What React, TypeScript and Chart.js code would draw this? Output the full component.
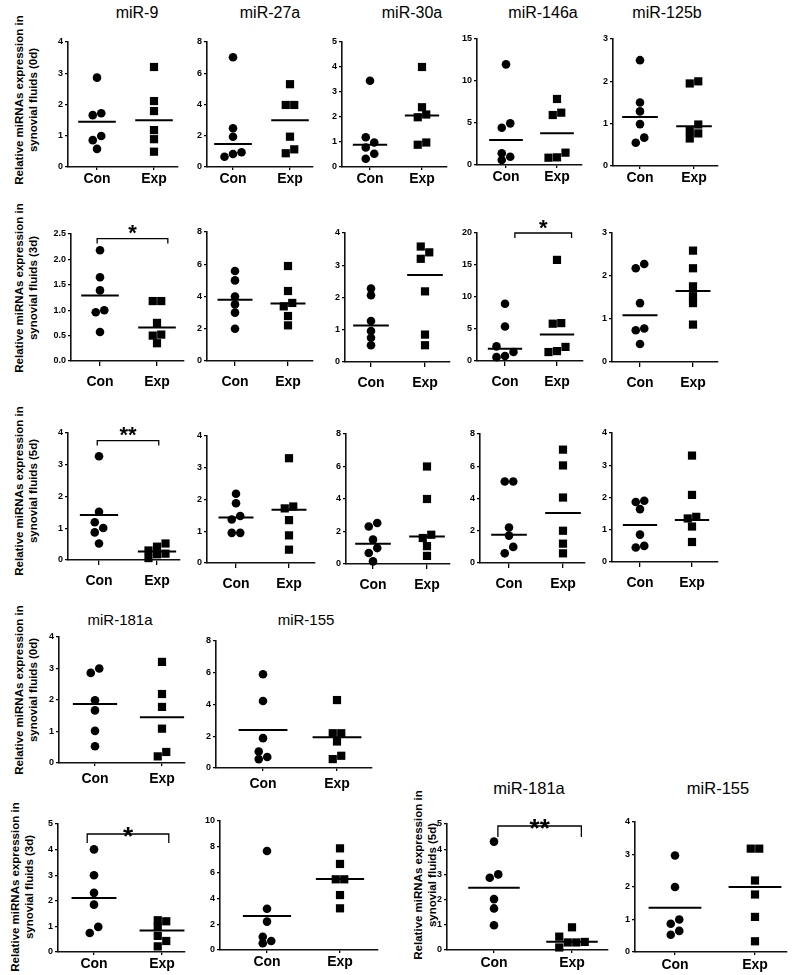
import React, { useEffect, useRef } from 'react';
import { Chart, registerables } from 'chart.js';

Chart.register(...registerables);

const FONT = "'Liberation Sans', Arial, Helvetica, sans-serif";
const GROUPS = ['Con', 'Exp'];
const Y_LINE1 = 'Relative miRNAs expression in';
const Y_LINE2 = (d: string) => `synovial fluids (${d})`;

// ---------- data: 0d (first block) ----------
const miR9_0d_con = [2.86, 1.66, 1.72, 0.99, 0.86, 0.58];
const miR9_0d_exp = [3.2, 2.11, 1.79, 1.18, 0.89, 0.49];
const miR9_0d_line = [1.45, 1.5];
const miR27a_0d_con = [7.02, 2.48, 1.94, 0.94, 0.66, 0.83];
const miR27a_0d_exp = [5.3, 3.97, 3.97, 1.94, 1.13, 0.88];
const miR27a_0d_line = [1.47, 3.0];
const miR30a_0d_con = [3.45, 1.19, 0.98, 0.78, 0.53, 0.33];
const miR30a_0d_exp = [4.0, 2.39, 2.1, 1.99, 0.98, 0.89];
const miR30a_0d_line = [0.89, 2.06];
const miR146a_0d_con = [11.98, 4.96, 4.44, 1.39, 0.6, 0.99];
const miR146a_0d_exp = [7.86, 6.23, 5.95, 1.47, 0.87, 0.91];
const miR146a_0d_line = [2.98, 3.77];
const miR125b_0d_con = [2.5, 1.5, 1.29, 0.99, 0.67, 0.55];
const miR125b_0d_exp = [1.95, 2.0, 0.98, 0.83, 0.77, 0.65];
const miR125b_0d_line = [1.16, 0.94];

// ---------- data: 3d ----------
const miR9_3d_con = [2.18, 1.65, 1.39, 1.0, 0.96, 0.57];
const miR9_3d_exp = [1.18, 1.18, 0.75, 0.52, 0.5, 0.35];
const miR9_3d_line = [1.29, 0.66];
const miR27a_3d_con = [5.58, 5.0, 4.0, 3.51, 3.0, 2.0];
const miR27a_3d_exp = [5.89, 4.34, 3.6, 3.39, 2.79, 2.21];
const miR27a_3d_line = [3.8, 3.56];
const miR30a_3d_con = [2.28, 2.07, 1.27, 0.96, 0.75, 0.52];
const miR30a_3d_exp = [3.58, 3.4, 3.2, 2.19, 0.85, 0.52];
const miR30a_3d_line = [1.13, 2.7];
const miR146a_3d_con = [8.95, 5.4, 2.28, 1.4, 0.77, 0.6];
const miR146a_3d_exp = [15.8, 5.92, 5.83, 2.2, 1.4, 1.55];
const miR146a_3d_line = [1.9, 4.16];
const miR125b_3d_con = [2.28, 2.18, 1.37, 0.78, 0.74, 0.42];
const miR125b_3d_exp = [2.59, 2.18, 1.76, 1.53, 1.37, 0.87];
const miR125b_3d_line = [1.09, 1.65];

// ---------- data: 5d ----------
const miR9_5d_con = [3.27, 1.52, 1.19, 1.01, 0.87, 0.52];
const miR9_5d_exp = [0.52, 0.42, 0.3, 0.2, 0.18, 0.06];
const miR9_5d_line = [1.42, 0.27];
const miR27a_5d_con = [2.18, 1.88, 1.48, 1.37, 0.95, 0.95];
const miR27a_5d_exp = [3.3, 1.78, 1.72, 1.35, 0.87, 0.42];
const miR27a_5d_line = [1.43, 1.68];
const miR30a_5d_con = [2.52, 2.31, 1.5, 0.98, 0.68, 0.16];
const miR30a_5d_exp = [6.0, 4.0, 1.8, 1.6, 1.1, 0.5];
const miR30a_5d_line = [1.25, 1.7];
const miR146a_5d_con = [5.05, 5.05, 2.2, 1.7, 1.0, 0.6];
const miR146a_5d_exp = [7.03, 6.05, 4.06, 2.0, 1.2, 0.6];
const miR146a_5d_line = [1.75, 3.1];
const miR125b_5d_con = [1.9, 1.86, 1.64, 0.85, 0.5, 0.45];
const miR125b_5d_exp = [3.3, 2.08, 1.4, 1.35, 1.1, 0.62];
const miR125b_5d_line = [1.15, 1.3];

// ---------- data: miR-181a / miR-155 ----------
const miR181a_0d_con = [2.86, 3.0, 1.99, 1.67, 1.02, 0.53];
const miR181a_0d_exp = [3.21, 2.19, 1.78, 1.09, 0.21, 0.35];
const miR181a_0d_line = [1.87, 1.45];
const miR155_0d_con = [5.91, 4.22, 1.88, 1.04, 0.56, 0.69];
const miR155_0d_exp = [4.28, 2.19, 2.19, 1.67, 0.56, 0.77];
const miR155_0d_line = [2.4, 1.94];
const miR181a_3d_con = [4.01, 3.0, 2.31, 1.85, 0.98, 0.74];
const miR181a_3d_exp = [1.24, 1.2, 0.98, 0.63, 0.43, 0.22];
const miR181a_3d_line = [2.11, 0.84];
const miR155_3d_con = [7.67, 3.2, 2.2, 1.03, 0.52, 0.7];
const miR155_3d_exp = [7.88, 6.67, 5.48, 5.48, 4.26, 3.23];
const miR155_3d_line = [2.64, 5.5];
const miR181a_5d_con = [4.3, 3.0, 2.87, 2.02, 1.65, 0.98];
const miR181a_5d_exp = [0.9, 0.53, 0.32, 0.3, 0.3, 0.1];
const miR181a_5d_line = [2.47, 0.33];
const miR155_5d_con = [2.97, 2.0, 1.0, 0.87, 0.65, 0.53];
const miR155_5d_exp = [3.18, 3.18, 2.2, 1.77, 1.08, 0.33];
const miR155_5d_line = [1.36, 2.0];

// ---------- layout ----------
const YW = 32;
const PT = 24;
const PR = 6;
const XH = 34;
const HALF = 0.33;

type Bracket = { from: number; to: number; y: number; tail: number; text: string; size: number; gap: number };
interface PanelSpec {
  con: number[]; exp: number[]; lines: number[];
  yMax: number; step: number; dec: number;
  left: number; right: number; top: number; bottom: number; conX: number; expX: number;
  xTick: number; xPad: number;
  bracket?: Bracket;
}

const r1 = { xTick: 3, xPad: 1 };
const r23 = { xTick: 5, xPad: 8 };
const r4 = { xTick: 3, xPad: 5 };
const r5 = { xTick: 3, xPad: 1 };

const PANELS: PanelSpec[] = [
  { con: miR9_0d_con, exp: miR9_0d_exp, lines: miR9_0d_line, yMax: 4, step: 1, dec: 0, left: 68, right: 178, top: 42, bottom: 167, conX: 97, expX: 154, ...r1 },
  { con: miR27a_0d_con, exp: miR27a_0d_exp, lines: miR27a_0d_line, yMax: 8, step: 2, dec: 0, left: 207, right: 313, top: 42, bottom: 167, conX: 233, expX: 290, ...r1 },
  { con: miR30a_0d_con, exp: miR30a_0d_exp, lines: miR30a_0d_line, yMax: 5, step: 1, dec: 0, left: 342, right: 447, top: 42, bottom: 167, conX: 370, expX: 422, ...r1 },
  { con: miR146a_0d_con, exp: miR146a_0d_exp, lines: miR146a_0d_line, yMax: 15, step: 5, dec: 0, left: 477, right: 582, top: 39, bottom: 165, conX: 506, expX: 557, ...r1 },
  { con: miR125b_0d_con, exp: miR125b_0d_exp, lines: miR125b_0d_line, yMax: 3, step: 1, dec: 0, left: 613, right: 718, top: 39, bottom: 166, conX: 640, expX: 694, ...r1 },

  { con: miR9_3d_con, exp: miR9_3d_exp, lines: miR9_3d_line, yMax: 2.5, step: 0.5, dec: 1, left: 71, right: 184, top: 234, bottom: 361, conX: 100, expX: 157, ...r23,
    bracket: { from: 0.95, to: 2.19, y: 2.41, tail: 5, text: '*', size: 22, gap: 11 } },
  { con: miR27a_3d_con, exp: miR27a_3d_exp, lines: miR27a_3d_line, yMax: 8, step: 2, dec: 0, left: 207, right: 313, top: 232, bottom: 361, conX: 235, expX: 288, ...r23 },
  { con: miR30a_3d_con, exp: miR30a_3d_exp, lines: miR30a_3d_line, yMax: 4, step: 1, dec: 0, left: 345, right: 450, top: 233, bottom: 362, conX: 371, expX: 425, ...r23 },
  { con: miR146a_3d_con, exp: miR146a_3d_exp, lines: miR146a_3d_line, yMax: 20, step: 5, dec: 0, left: 477, right: 583, top: 233, bottom: 361, conX: 505, expX: 557, ...r23,
    bracket: { from: 1.19, to: 2.28, y: 20, tail: 5, text: '*', size: 22, gap: 11 } },
  { con: miR125b_3d_con, exp: miR125b_3d_exp, lines: miR125b_3d_line, yMax: 3, step: 1, dec: 0, left: 612, right: 718, top: 233, bottom: 362, conX: 640, expX: 693, ...r23 },

  { con: miR9_5d_con, exp: miR9_5d_exp, lines: miR9_5d_line, yMax: 4, step: 1, dec: 0, left: 68, right: 180, top: 433, bottom: 560, conX: 99, expX: 157, ...r23,
    bracket: { from: 0.97, to: 2.03, y: 3.76, tail: 5, text: '**', size: 22, gap: 11.5 } },
  { con: miR27a_5d_con, exp: miR27a_5d_exp, lines: miR27a_5d_line, yMax: 4, step: 1, dec: 0, left: 207, right: 315, top: 436, bottom: 563, conX: 236, expX: 289, ...r23 },
  { con: miR30a_5d_con, exp: miR30a_5d_exp, lines: miR30a_5d_line, yMax: 8, step: 2, dec: 0, left: 346, right: 450, top: 434, bottom: 564, conX: 373, expX: 427, ...r23 },
  { con: miR146a_5d_con, exp: miR146a_5d_exp, lines: miR146a_5d_line, yMax: 8, step: 2, dec: 0, left: 480, right: 585, top: 434, bottom: 563, conX: 509, expX: 563, ...r23 },
  { con: miR125b_5d_con, exp: miR125b_5d_exp, lines: miR125b_5d_line, yMax: 4, step: 1, dec: 0, left: 612, right: 718, top: 433, bottom: 562, conX: 640, expX: 692, ...r23 },

  { con: miR181a_0d_con, exp: miR181a_0d_exp, lines: miR181a_0d_line, yMax: 4, step: 1, dec: 0, left: 59, right: 185, top: 637, bottom: 763, conX: 95, expX: 162, ...r4 },
  { con: miR155_0d_con, exp: miR155_0d_exp, lines: miR155_0d_line, yMax: 8, step: 2, dec: 0, left: 216, right: 372, top: 641, bottom: 768, conX: 263, expX: 337, ...r4 },

  { con: miR181a_3d_con, exp: miR181a_3d_exp, lines: miR181a_3d_line, yMax: 5, step: 1, dec: 0, left: 58, right: 185, top: 824, bottom: 952, conX: 94, expX: 162, ...r5,
    bracket: { from: 0.9, to: 2.1, y: 4.61, tail: 9, text: '*', size: 26, gap: 4 } },
  { con: miR155_3d_con, exp: miR155_3d_exp, lines: miR155_3d_line, yMax: 10, step: 2, dec: 0, left: 220, right: 378, top: 821, bottom: 950, conX: 267, expX: 340, ...r5 },

  { con: miR181a_5d_con, exp: miR181a_5d_exp, lines: miR181a_5d_line, yMax: 5, step: 1, dec: 0, left: 447, right: 608, top: 824, bottom: 950, conX: 494, expX: 572, xTick: 3, xPad: 2,
    bracket: { from: 1.05, to: 2.12, y: 4.92, tail: 11, text: '**', size: 26, gap: 4 } },
  { con: miR155_5d_con, exp: miR155_5d_exp, lines: miR155_5d_line, yMax: 4, step: 1, dec: 0, left: 635, right: 787, top: 822, bottom: 952, conX: 675, expX: 755, xTick: 3, xPad: 2 },
];

const TITLES: { text: string; x: number; y: number; size: number }[] = [
  { text: 'miR-9', x: 137, y: 13, size: 16 },
  { text: 'miR-27a', x: 270, y: 13, size: 16 },
  { text: 'miR-30a', x: 412, y: 13, size: 16 },
  { text: 'miR-146a', x: 543, y: 13, size: 16 },
  { text: 'miR-125b', x: 667, y: 13, size: 16 },
  { text: 'miR-181a', x: 120, y: 620, size: 15 },
  { text: 'miR-155', x: 306, y: 620, size: 15 },
  { text: 'miR-181a', x: 529, y: 788, size: 16.5 },
  { text: 'miR-155', x: 718, y: 788, size: 16.5 },
];

const YLABELS: { day: string; x: number; y: number }[] = [
  { day: '0d', x: 25.5, y: 100 },
  { day: '3d', x: 25.5, y: 288 },
  { day: '5d', x: 25.5, y: 491 },
  { day: '0d', x: 25.5, y: 690 },
  { day: '3d', x: 21.5, y: 887 },
  { day: '5d', x: 424.5, y: 875 },
];

// spread overlapping points horizontally (beeswarm-like columns)
function spread(values: number[], pxPerVal: number, pxPerUnitX: number): number[] {
  const D = 6.5;
  const S = 8.5;
  const idx = values.map((_, i) => i).sort((a, b) => values[a] - values[b]);
  const offs = new Array(values.length).fill(0);
  let start = 0;
  while (start < idx.length) {
    let end = start;
    while (end + 1 < idx.length && (values[idx[end + 1]] - values[idx[end]]) * pxPerVal < D) end++;
    const cluster = idx.slice(start, end + 1);
    const n = cluster.length;
    if (n > 1) {
      let k = 2;
      for (; k < n; k++) {
        let ok = true;
        for (let i = k; i < n; i++) {
          if ((values[cluster[i]] - values[cluster[i - k]]) * pxPerVal < D) { ok = false; break; }
        }
        if (ok) break;
      }
      cluster.forEach((id, i) => {
        const col = i % k;
        offs[id] = ((col - (k - 1) / 2) * S) / pxPerUnitX;
      });
    }
    start = end + 1;
  }
  return offs;
}

function Panel({ spec }: { spec: PanelSpec }) {
  const ref = useRef<HTMLCanvasElement>(null);
  const w = YW + (spec.right - spec.left) + PR;
  const h = PT + (spec.bottom - spec.top) + XH;

  useEffect(() => {
    if (!ref.current) return;
    const ppu = spec.expX - spec.conX;
    const xMin = 1 - (spec.conX - spec.left) / ppu;
    const xMax = 2 + (spec.right - spec.expX) / ppu;
    const pxPerVal = (spec.bottom - spec.top) / spec.yMax;
    const offC = spread(spec.con, pxPerVal, ppu);
    const offE = spread(spec.exp, pxPerVal, ppu);

    const bracketPlugin = {
      id: 'bracket',
      afterDatasetsDraw(chart: any) {
        const b = spec.bracket;
        if (!b) return;
        const { ctx, scales } = chart;
        const x1 = scales.x.getPixelForValue(b.from);
        const x2 = scales.x.getPixelForValue(b.to);
        const yy = scales.y.getPixelForValue(b.y);
        ctx.save();
        ctx.strokeStyle = '#000';
        ctx.lineWidth = 1.3;
        ctx.beginPath();
        ctx.moveTo(x1, yy + b.tail);
        ctx.lineTo(x1, yy);
        ctx.lineTo(x2, yy);
        ctx.lineTo(x2, yy + b.tail);
        ctx.stroke();
        ctx.font = `bold ${b.size}px ${FONT}`;
        ctx.textAlign = 'center';
        ctx.textBaseline = 'alphabetic';
        ctx.fillStyle = '#000';
        const cy = yy - b.gap;
        ctx.fillText(b.text, (x1 + x2) / 2, cy + 0.57 * b.size);
        ctx.restore();
      },
    };

    const lineDs = (c: number, m: number) => ({
      data: [{ x: c - HALF, y: m }, { x: c + HALF, y: m }],
      showLine: true,
      borderColor: '#000',
      borderWidth: 2,
      pointRadius: 0,
      clip: false as any,
    });

    const chart = new Chart(ref.current, {
      type: 'scatter',
      data: {
        datasets: [
          {
            data: spec.con.map((v, i) => ({ x: 1 + offC[i], y: v })),
            pointStyle: 'circle',
            pointRadius: 4.3,
            backgroundColor: '#000',
            borderColor: '#000',
            borderWidth: 0,
            clip: false as any,
          },
          {
            data: spec.exp.map((v, i) => ({ x: 2 + offE[i], y: v })),
            pointStyle: 'rect',
            pointRadius: 5.8,
            backgroundColor: '#000',
            borderColor: '#000',
            borderWidth: 0,
            clip: false as any,
          },
          lineDs(1, spec.lines[0]),
          lineDs(2, spec.lines[1]),
        ] as any,
      },
      plugins: [bracketPlugin],
      options: {
        animation: false,
        responsive: false,
        maintainAspectRatio: false,
        devicePixelRatio: 1,
        events: [],
        layout: { padding: { top: PT, right: PR, left: 0, bottom: 0 } },
        plugins: { legend: { display: false }, tooltip: { enabled: false }, title: { display: false } },
        scales: {
          x: {
            type: 'linear',
            min: xMin,
            max: xMax,
            afterBuildTicks: (s: any) => { s.ticks = [{ value: 1 }, { value: 2 }]; },
            afterFit: (s: any) => { s.height = XH; },
            ticks: {
              callback: (v: any) => (v === 1 ? GROUPS[0] : v === 2 ? GROUPS[1] : ''),
              font: { family: FONT, size: 14, weight: 'bold' },
              color: '#000',
              padding: spec.xPad,
              maxRotation: 0,
              autoSkip: false,
            },
            grid: { display: true, drawOnChartArea: false, drawTicks: true, tickLength: spec.xTick, color: '#000', lineWidth: 1.3 },
            border: { display: true, color: '#111', width: 1.6 },
          },
          y: {
            type: 'linear',
            min: 0,
            max: spec.yMax,
            afterFit: (s: any) => { s.width = YW; },
            ticks: {
              stepSize: spec.step,
              callback: (v: any) => Number(v).toFixed(spec.dec),
              font: { family: FONT, size: 9, weight: 'bold' },
              color: '#000',
              padding: 2,
            },
            grid: { display: true, drawOnChartArea: false, drawTicks: true, tickLength: 3, color: '#000', lineWidth: 1.2 },
            border: { display: true, color: '#111', width: 1.6 },
          },
        },
      } as any,
    });
    return () => chart.destroy();
  }, [spec]);

  return (
    <canvas
      ref={ref}
      width={w}
      height={h}
      style={{ position: 'absolute', left: spec.left - YW, top: spec.top - PT, width: w, height: h }}
    />
  );
}

export default function App() {
  return (
    <div
      style={{
        position: 'absolute',
        left: 0,
        top: 0,
        width: 800,
        height: 975,
        overflow: 'hidden',
        background: '#fff',
        fontFamily: FONT,
        color: '#000',
      }}
    >
      {TITLES.map((t, i) => (
        <div
          key={'t' + i}
          style={{
            position: 'absolute',
            left: t.x - 70,
            top: t.y - 11,
            width: 140,
            height: 22,
            lineHeight: '22px',
            textAlign: 'center',
            fontSize: t.size,
            fontFamily: FONT,
            whiteSpace: 'nowrap',
          }}
        >
          {t.text}
        </div>
      ))}
      {YLABELS.map((l, i) => (
        <div
          key={'y' + i}
          style={{
            position: 'absolute',
            left: l.x - 110,
            top: l.y - 14,
            width: 220,
            height: 28,
            lineHeight: '14px',
            textAlign: 'center',
            fontSize: 11.5,
            fontWeight: 'bold',
            fontFamily: FONT,
            whiteSpace: 'nowrap',
            transform: 'rotate(-90deg)',
          }}
        >
          {Y_LINE1}
          <br />
          {Y_LINE2(l.day)}
        </div>
      ))}
      {PANELS.map((p, i) => (
        <Panel key={i} spec={p} />
      ))}
    </div>
  );
}
